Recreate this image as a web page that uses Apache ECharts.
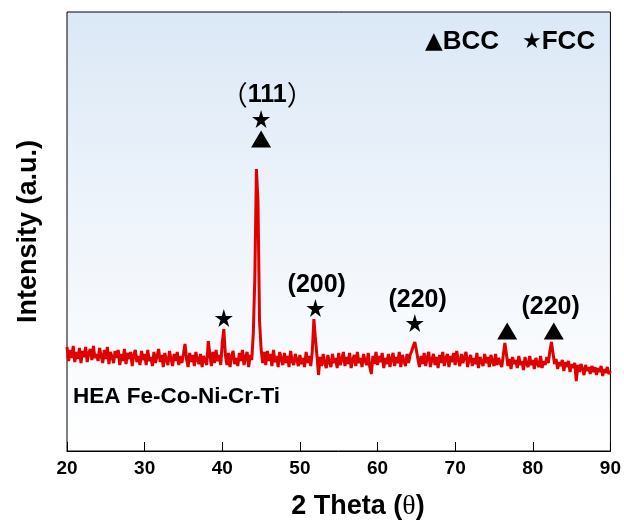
<!DOCTYPE html>
<html>
<head>
<meta charset="utf-8">
<script src="https://cdn.jsdelivr.net/npm/echarts@6/dist/echarts.min.js"></script>
<style>html,body{margin:0;padding:0;background:#fff}#c{width:624px;height:521px}</style>
</head>
<body>
<div id="c"></div>
<script>
// XRD scan: start angle, step, intensities (a.u.)
const scanStart = 20;
const scanStep = 0.2;
const intensity = [
  104, 90, 101, 93, 105, 89, 99, 92, 103, 88,
  100, 94, 104, 89, 98, 102, 91, 105, 93, 97,
  90, 103, 95, 88, 101, 92, 104, 87, 99, 94,
  88, 100, 93, 101, 86, 97, 90, 102, 87, 98,
  92, 99, 85, 96, 101, 89, 95, 86, 100, 91,
  97, 86, 101, 90, 94, 85, 99, 88, 95, 102,
  89, 96, 84, 98, 91, 86, 100, 92, 85, 97,
  90, 99, 86, 95, 88, 97, 107, 92, 84, 98,
  89, 96, 85, 99, 91, 87, 97, 84, 95, 90,
  86, 110, 97, 85, 99, 88, 101, 90, 96, 86,
  108, 122, 96, 86, 98, 84, 95, 100, 87, 93,
  85, 98, 90, 101, 86, 94, 99, 84, 96, 91,
  118, 175, 282, 250, 130, 102, 88, 99, 86, 100,
  90, 97, 85, 101, 89, 95, 84, 99, 92, 86,
  98, 88, 95, 84, 100, 90, 86, 97, 91, 85,
  96, 87, 93, 84, 99, 88, 95, 85, 100, 132,
  112, 95, 76, 94, 85, 97, 88, 83, 96, 89,
  84, 97, 88, 93, 83, 98, 86, 92, 99, 85,
  94, 87, 98, 83, 91, 96, 85, 99, 88, 93,
  84, 97, 90, 86, 98, 84, 77, 95, 87, 99,
  86, 95, 89, 98, 83, 93, 87, 97, 84, 92,
  98, 85, 94, 88, 99, 84, 96, 90, 85, 97,
  88, 96, 100, 105, 109, 101, 92, 84, 95, 87,
  98, 85, 93, 99, 84, 91, 97, 86, 94, 83,
  96, 88, 99, 85, 93, 97, 84, 95, 89, 98,
  86, 100, 91, 85, 97, 88, 94, 99, 84, 92,
  96, 85, 93, 87, 98, 83, 94, 89, 85, 97,
  88, 94, 84, 96, 90, 85, 97, 86, 93, 88,
  84, 96, 108, 97, 85, 92, 82, 94, 87, 91,
  83, 95, 86, 90, 81, 94, 87, 84, 95, 86,
  91, 82, 93, 87, 84, 95, 83, 90, 86, 94,
  88, 100, 109, 98, 87, 92, 82, 89, 85, 91,
  80, 89, 84, 90, 79, 87, 83, 88, 70, 86,
  79, 87, 82, 76, 86, 80, 84, 77, 85, 79,
  84, 76, 83, 79, 85, 75, 82, 78, 84, 77,
  80
];

// Phase markers
const fccX = [40.2, 45.0, 52.0, 64.8];
const fccY = [133, 332, 143, 128];
const bccX = [45.0, 76.7, 82.7];
const bccY = [312, 120, 120];

// Peak index labels
const hklText = ['{p|（}111{p|）}', '(200)', '(220)', '(220)'];
const hklX = [45.8, 52.17, 65.17, 82.3];
const hklY = [356, 166, 151, 144];

const xTicks = [20, 30, 40, 50, 60, 70, 80, 90];

const FONT = 'Liberation Sans, Arial, Noto Sans CJK SC, sans-serif';
const STAR = 'path://M50,0 L61,35 L98,35 L68,57 L79,91 L50,70 L21,91 L32,57 L2,35 L39,35 Z';

const lineData = intensity.map((v, i) => [scanStart + i * scanStep, v]);

const chart = echarts.init(document.getElementById('c'), null, {renderer: 'canvas'});
chart.setOption({
  animation: false,
  backgroundColor: '#ffffff',
  grid: {
    left: 67, right: 13, top: 12, bottom: 70,
    show: true,
    borderColor: '#000', borderWidth: 1,
    backgroundColor: new echarts.graphic.LinearGradient(0, 0, 0, 1, [
      {offset: 0, color: '#dbe8f6'},
      {offset: 0.6, color: '#f3f7fc'},
      {offset: 1, color: '#ffffff'}
    ])
  },
  xAxis: {
    type: 'value', min: xTicks[0], max: xTicks[xTicks.length - 1], interval: 10,
    axisLine: {show: true, lineStyle: {color: '#000', width: 1}},
    axisTick: {show: true, inside: true, length: 9, lineStyle: {color: '#000'}},
    axisLabel: {color: '#000', fontFamily: FONT, fontWeight: 'bold', fontSize: 19, margin: 8},
    splitLine: {show: false}
  },
  yAxis: {
    type: 'value', min: 0, max: 439,
    axisLine: {show: false}, axisTick: {show: false}, axisLabel: {show: false},
    splitLine: {show: false},
    name: 'Intensity (a.u.)', nameLocation: 'middle', nameGap: 25,
    nameTextStyle: {color: '#000', fontFamily: FONT, fontWeight: 'bold', fontSize: 27}
  },
  series: [
    {
      type: 'line', data: lineData, showSymbol: false, symbol: 'none',
      lineStyle: {color: '#e00000', width: 3}, z: 2
    },
    {
      type: 'scatter', data: fccX.map((x, i) => [x, fccY[i]]),
      symbol: STAR, symbolSize: 18, itemStyle: {color: '#000', opacity: 1}, z: 3
    },
    {
      type: 'scatter', data: bccX.map((x, i) => [x, bccY[i]]),
      symbol: 'triangle', symbolSize: [20, 17], itemStyle: {color: '#000', opacity: 1}, z: 3
    },
    {
      type: 'scatter', data: hklX.map((x, i) => ({value: [x, hklY[i]], label: {formatter: hklText[i]}})),
      symbolSize: 1, itemStyle: {color: 'transparent', opacity: 1},
      label: {
        show: true, position: 'inside', color: '#000', opacity: 1,
        textBorderWidth: 0, fontFamily: FONT, fontWeight: 'bold', fontSize: 25,
        rich: {p: {fontFamily: 'Noto Sans CJK SC', fontWeight: 'normal', fontSize: 27, color: '#000'}}
      },
      z: 4
    }
  ],
  graphic: [
    {type: 'text', x: 425, y: 42, style: {
      text: '{s|▲}{t|BCC}', verticalAlign: 'middle',
      rich: {
        s: {fontSize: 23, fontFamily: 'DejaVu Sans', fill: '#000'},
        t: {fontSize: 26, fontWeight: 'bold', fontFamily: FONT, fill: '#000'}
      }
    }},
    {type: 'text', x: 522, y: 42, style: {
      text: '{s|★}{t|FCC}', verticalAlign: 'middle',
      rich: {
        s: {fontSize: 22, fontFamily: 'DejaVu Sans', fill: '#000'},
        t: {fontSize: 26, fontWeight: 'bold', fontFamily: FONT, fill: '#000'}
      }
    }},
    {type: 'text', x: 73, y: 397, style: {text: 'HEA Fe-Co-Ni-Cr-Ti', fill: '#000', font: 'bold 22.5px ' + FONT, verticalAlign: 'middle'}},
    {type: 'text', x: 358, y: 507, style: {
      text: '2 Theta ({r|θ})', textAlign: 'center', verticalAlign: 'middle',
      font: 'bold 27px ' + FONT, fill: '#000',
      rich: {r: {fontFamily: 'Liberation Serif, Times New Roman, serif', fontSize: 28, fill: '#000'}}
    }}
  ]
});
</script>
</body>
</html>
